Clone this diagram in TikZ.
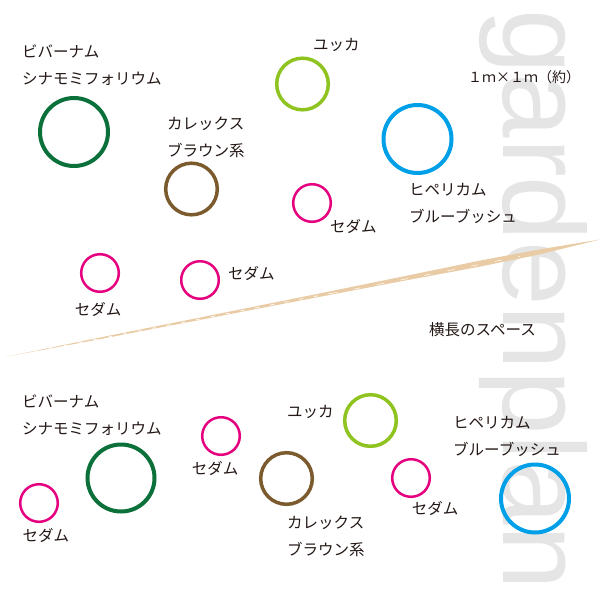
\documentclass[tikz,border=0pt]{standalone}
\usepackage{fontspec}
\setmainfont{Noto Sans CJK JP}
\newfontfamily\wmfont{Liberation Sans}
\definecolor{viburnum}{RGB}{11,112,57}
\definecolor{carex}{RGB}{123,91,46}
\definecolor{yucca}{RGB}{143,195,31}
\definecolor{hyperic}{RGB}{0,160,233}
\definecolor{sedum}{RGB}{228,0,127}
\definecolor{brush}{RGB}{233,204,165}
\definecolor{ink}{RGB}{35,24,21}
\tikzset{
  lbl/.style={inner sep=0pt, text=ink, font=\fontsize{15.5}{27}\selectfont, align=left},
  wm/.style={inner sep=0pt, text=black!10, font=\wmfont\fontsize{116}{116}\selectfont},
}
\begin{document}
\begin{tikzpicture}[x=1pt, y=-1pt]
        \useasboundingbox[fill=white] (0,0) rectangle (600,600);

        % watermark
        \node[wm, anchor=base west, rotate=-90] (wmark) at (503,9) {gardenplan};

        % brush stroke
        \fill[brush] (5,357) -- (100,337.5) -- (200,317.5) -- (300,297.4) -- (400,277.1) -- (480,260.6) -- (540,249.3) -- (600,239.5)
            -- (540,254.3) -- (480,266.6) -- (400,281.5) -- (300,300.6) -- (200,319.9) -- (100,339.1) -- cycle;
        \draw[white, line width=0.7pt, dash pattern=on 4pt off 11pt] (5,357.3) -- (330,293.4);
        \draw[white, line width=0.5pt, dash pattern=on 7pt off 17pt] (330,293.8) -- (520,256.5);

        % upper plan
        \draw[viburnum, line width=4pt] (74,132) circle (34pt);
        \draw[carex, line width=3.5pt] (191.5,189) circle (25.8pt);
        \draw[yucca, line width=3.5pt] (302.5,84) circle (25.8pt);
        \draw[hyperic, line width=4pt] (417.5,139) circle (34pt);
        \draw[sedum, line width=2.5pt] (312,203) circle (18.8pt);
        \draw[sedum, line width=2.5pt] (100,273) circle (18.8pt);
        \draw[sedum, line width=2.5pt] (200,280) circle (18.8pt);

        \node[lbl, anchor=west] (vibA) at (22,65.5) {ビバーナム\\シナモミフォリウム};
        \node[lbl, anchor=west] (carexA) at (167,137.5) {カレックス\\ブラウン系};
        \node[lbl, anchor=west] (yuccaA) at (313,45) {ユッカ};
        \node[lbl, anchor=west] (hypA) at (409,203.5) {ヒペリカム\\ブルーブッシュ};
        \node[lbl, anchor=west, font=\fontsize{14}{16}\selectfont] (size) at (468,77) {１ｍ×１ｍ（約）};
        \node[lbl, anchor=west] (sedumA) at (330,226) {セダム};
        \node[lbl] (sedumB) at (98,309) {セダム};
        \node[lbl, anchor=west] (sedumC) at (228,273) {セダム};
        \node[lbl, anchor=west] (space) at (429,330) {横長のスペース};

        % lower plan
        \draw[viburnum, line width=4pt] (121,478) circle (33.5pt);
        \draw[carex, line width=3.5pt] (286.5,478.5) circle (25.8pt);
        \draw[yucca, line width=3.5pt] (370.5,420.5) circle (25.8pt);
        \draw[hyperic, line width=4pt] (535,498.5) circle (34pt);
        \draw[sedum, line width=2.5pt] (39,503) circle (18.8pt);
        \draw[sedum, line width=2.5pt] (221,436) circle (18.8pt);
        \draw[sedum, line width=2.5pt] (411,478) circle (18.8pt);

        \node[lbl, anchor=west] (vibB) at (22,415) {ビバーナム\\シナモミフォリウム};
        \node[lbl, anchor=west] (carexB) at (287,536) {カレックス\\ブラウン系};
        \node[lbl, anchor=west] (yuccaB) at (287,412) {ユッカ};
        \node[lbl, anchor=west] (hypB) at (453,436) {ヒペリカム\\ブルーブッシュ};
        \node[lbl] (sedumD) at (46,535) {セダム};
        \node[lbl] (sedumE) at (215,468) {セダム};
        \node[lbl] (sedumF) at (435,508) {セダム};

    \end{tikzpicture}
\end{document}
